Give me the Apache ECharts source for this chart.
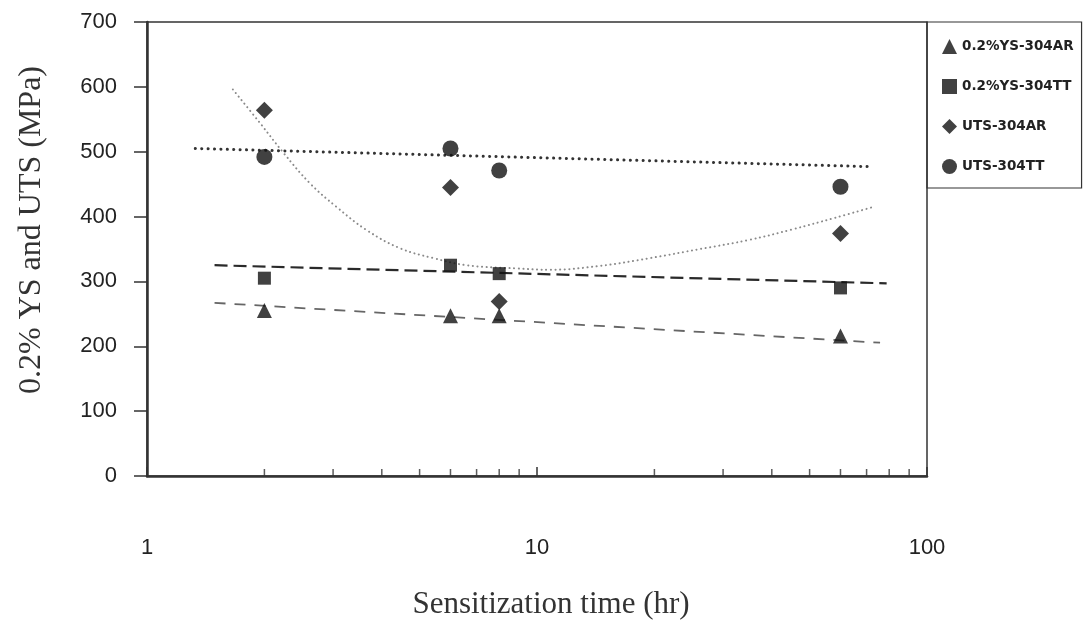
<!DOCTYPE html>
<html>
<head>
<meta charset="utf-8">
<script src="https://cdn.jsdelivr.net/npm/echarts@6/dist/echarts.min.js"></script>
<style>
html,body{margin:0;padding:0;background:#fff;}
#chart{width:1086px;height:625px;}
</style>
</head>
<body>
<div id="chart"></div>
<script>
// ---- data ----
var times = [2, 6, 8, 60];
var ys304AR = [255, 247, 247, 216];
var ys304TT = [305, 325, 312, 290];
var uts304AR = [564, 445, 269, 374];
var uts304TT = [492, 505, 471, 446];

// trend lines (as drawn in the reference)
var trendUtsTT = [[1.33, 505], [71.4, 477]];
var trendYsTT = [[1.49, 325], [78.8, 297]];
var trendYsAR = [[1.49, 267], [75.8, 205.5]];
var trendUtsAR = [[1.66, 596], [1.95, 544], [2.24, 498], [2.62, 451], [3.06, 415], [3.66, 379],
  [4.46, 351], [5.42, 336], [6.6, 325], [8.87, 320], [10.8, 318], [14.5, 324], [19.5, 336],
  [26.2, 350], [35, 364], [45, 380], [58, 398], [72, 414]];

// minor tick positions on the log axis
var minorTicks = [2, 3, 4, 5, 6, 7, 8, 9, 20, 30, 40, 50, 60, 70, 80, 90];
var xTickLabels = [1, 10, 100];
var seriesNames = ['0.2%YS-304AR', '0.2%YS-304TT', 'UTS-304AR', 'UTS-304TT'];

function pairs(xs, ys) { return xs.map(function (x, i) { return [x, ys[i]]; }); }

var ink = '#111';
var chart = echarts.init(document.getElementById('chart'));
chart.setOption({
  animation: false,
  backgroundColor: '#fff',
  grid: { left: 147, top: 22, right: 159, bottom: 149, show: true, borderColor: '#333', borderWidth: 1.5 },
  legend: {
    data: seriesNames,
    orient: 'vertical',
    left: 927, top: 22,
    padding: [17, 8, 14, 15],
    itemGap: 25, itemWidth: 15, itemHeight: 15,
    borderColor: '#333', borderWidth: 1.2,
    selectedMode: false,
    textStyle: { fontFamily: 'DejaVu Sans', fontWeight: 'bold', fontSize: 13.5, color: '#222' }
  },
  xAxis: {
    type: 'log', logBase: 10, min: 1, max: 100,
    name: 'Sensitization time (hr)', nameLocation: 'middle', nameGap: 113,
    nameTextStyle: { fontFamily: 'Liberation Serif', fontSize: 31, color: '#333', padding: [0, 0, 0, 28] },
    axisLine: { lineStyle: { color: '#333', width: 2.5 } },
    axisTick: { inside: true, length: 9, lineStyle: { color: '#333', width: 1.5 } },
    minorTick: { show: false },
    splitLine: { show: false },
    axisLabel: {
      margin: 61, fontFamily: 'Liberation Sans', fontSize: 22, color: '#222',
      formatter: function (v) { return xTickLabels.indexOf(Math.round(v)) >= 0 ? String(Math.round(v)) : ''; }
    }
  },
  yAxis: {
    type: 'value', min: 0, max: 700, interval: 100,
    name: '0.2% YS and UTS (MPa)', nameLocation: 'middle', nameGap: 99,
    nameTextStyle: { fontFamily: 'Liberation Serif', fontSize: 32, color: '#333', padding: [0, 0, 0, 38] },
    axisLine: { show: true, lineStyle: { color: '#333', width: 2.5 } },
    axisTick: { show: true, inside: false, length: 13, lineStyle: { color: '#333', width: 1.5 } },
    splitLine: { show: false },
    axisLabel: { margin: 30, fontFamily: 'Liberation Sans', fontSize: 22, color: '#222' }
  },
  series: [
    { type: 'line', name: 'trendUtsTT', data: trendUtsTT, symbol: 'none', silent: true,
      lineStyle: { color: '#333', width: 3, type: [0.1, 6.3], cap: 'round' } },
    { type: 'line', name: 'trendYsTT', data: trendYsTT, symbol: 'none', silent: true,
      lineStyle: { color: '#2a2a2a', width: 2.2, type: [13, 6] } },
    { type: 'line', name: 'trendYsAR', data: trendYsAR, symbol: 'none', silent: true,
      lineStyle: { color: '#666', width: 1.8, type: [11, 9] } },
    { type: 'line', name: 'trendUtsAR', data: trendUtsAR, symbol: 'none', silent: true, smooth: 0.4,
      lineStyle: { color: '#8a8a8a', width: 2, type: [0.1, 4.5], cap: 'round' } },
    { type: 'scatter', name: 'minorTicks', data: minorTicks.map(function (x) { return [x, 0]; }),
      symbol: 'rect', symbolSize: [1.5, 7], symbolOffset: [0, -3.5], silent: true, clip: false,
      itemStyle: { color: '#333' }, z: 5 },
    { type: 'scatter', name: seriesNames[0], data: pairs(times, ys304AR), symbol: 'triangle', symbolSize: 15,
      itemStyle: { color: ink }, z: 10 },
    { type: 'scatter', name: seriesNames[1], data: pairs(times, ys304TT), symbol: 'rect', symbolSize: 13,
      itemStyle: { color: ink }, z: 10 },
    { type: 'scatter', name: seriesNames[2], data: pairs(times, uts304AR), symbol: 'diamond', symbolSize: 17,
      itemStyle: { color: ink }, z: 10 },
    { type: 'scatter', name: seriesNames[3], data: pairs(times, uts304TT), symbol: 'circle', symbolSize: 16,
      itemStyle: { color: ink }, z: 10 }
  ]
});
</script>
</body>
</html>
